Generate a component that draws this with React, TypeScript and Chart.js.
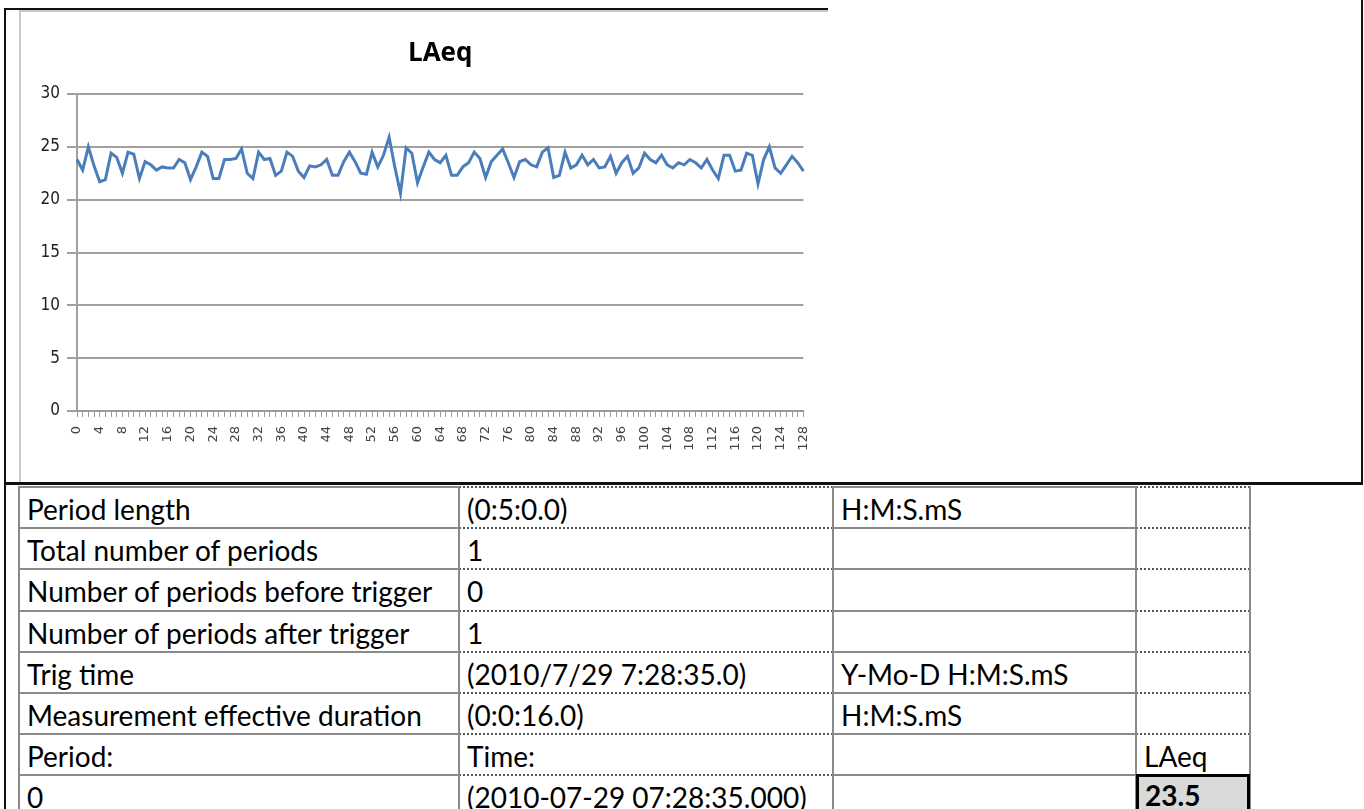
import React, { useEffect, useRef } from "react";
import { Chart, registerables } from "chart.js";

Chart.register(...registerables);

const chartTitle = "LAeq";

const categories = [
  "0","1","2","3","4","5","6","7","8","9","10","11","12","13","14","15","16","17","18","19",
  "20","21","22","23","24","25","26","27","28","29","30","31","32","33","34","35","36","37","38","39",
  "40","41","42","43","44","45","46","47","48","49","50","51","52","53","54","55","56","57","58","59",
  "60","61","62","63","64","65","66","67","68","69","70","71","72","73","74","75","76","77","78","79",
  "80","81","82","83","84","85","86","87","88","89","90","91","92","93","94","95","96","97","98","99",
  "100","101","102","103","104","105","106","107","108","109","110","111","112","113","114","115","116","117","118","119",
  "120","121","122","123","124","125","126","127","128",
];

const laeqValues = [
  23.8, 22.8, 25.0, 23.2, 21.7, 21.9, 24.4, 24.0, 22.5, 24.5,
  24.3, 22.0, 23.6, 23.3, 22.8, 23.1, 23.0, 23.0, 23.8, 23.5,
  21.9, 23.1, 24.5, 24.1, 22.0, 22.0, 23.8, 23.8, 23.9, 24.8,
  22.5, 22.0, 24.5, 23.8, 23.9, 22.3, 22.7, 24.5, 24.1, 22.7,
  22.1, 23.2, 23.1, 23.3, 23.8, 22.3, 22.3, 23.6, 24.5, 23.6,
  22.5, 22.4, 24.5, 23.1, 24.2, 25.9, 23.1, 20.6, 24.9, 24.4,
  21.6, 23.1, 24.5, 23.8, 23.5, 24.2, 22.3, 22.3, 23.1, 23.5,
  24.5, 23.9, 22.1, 23.6, 24.2, 24.8, 23.5, 22.1, 23.6, 23.8,
  23.3, 23.1, 24.5, 24.9, 22.1, 22.3, 24.5, 23.0, 23.3, 24.2,
  23.3, 23.8, 23.0, 23.1, 24.1, 22.5, 23.5, 24.1, 22.5, 23.0,
  24.4, 23.8, 23.5, 24.2, 23.3, 23.0, 23.5, 23.3, 23.8, 23.5,
  23.0, 23.8, 22.8, 22.0, 24.2, 24.2, 22.7, 22.8, 24.4, 24.2,
  21.5, 23.8, 25.0, 23.0, 22.5, 23.3, 24.1, 23.5, 22.7,
];

const yMin = 0;
const yMax = 30;
const yStep = 5;
const xLabelEvery = 4;

const tableCol1 = [
  "Period length",
  "Total number of periods",
  "Number of periods before trigger",
  "Number of periods after trigger",
  "Trig time",
  "Measurement effective duration",
  "Period:",
  "0",
];
const tableCol2 = [
  "(0:5:0.0)",
  "1",
  "0",
  "1",
  "(2010/7/29 7:28:35.0)",
  "(0:0:16.0)",
  "Time:",
  "(2010-07-29 07:28:35.000)",
];
const tableCol3 = ["H:M:S.mS", "", "", "", "Y-Mo-D H:M:S.mS", "H:M:S.mS", "", ""];
const tableCol4 = ["", "", "", "", "", "", "LAeq", "23.5"];

const COL_X = [19, 459, 833, 1136, 1250];
const ROW_TOP = 486;
const ROW_H = 41.2;
const TABLE_FONT = "Lato, 'Open Sans', sans-serif";

const CANVAS_LEFT = 20;
const CANVAS_TOP = 10;
const CANVAS_W = 808;
const CANVAS_H = 472;

function LineChart() {
  const ref = useRef<HTMLCanvasElement | null>(null);
  useEffect(() => {
    if (!ref.current) return;
    const chart = new Chart(ref.current, {
      type: "line",
      data: {
        labels: categories,
        datasets: [
          {
            label: chartTitle,
            data: laeqValues,
            borderColor: "#4a7ebb",
            backgroundColor: "#4a7ebb",
            borderWidth: 3,
            pointRadius: 0,
            tension: 0,
            fill: false,
          },
        ],
      },
      options: {
        animation: false,
        responsive: false,
        maintainAspectRatio: false,
        layout: { padding: { left: 0, right: 14, top: 0, bottom: 0 } },
        plugins: {
          legend: { display: false },
          tooltip: { enabled: false },
          title: {
            display: true,
            text: chartTitle,
            fullSize: false,
            color: "#000000",
            font: { family: "'Open Sans', sans-serif", size: 26, weight: "bold", lineHeight: 1.2 },
            padding: { top: 28, bottom: 24.8 },
          },
        },
        scales: {
          x: {
            type: "category",
            offset: false,
            grid: {
              drawOnChartArea: false,
              drawTicks: true,
              tickLength: 6,
              color: "#9a9a9a",
              lineWidth: 1,
            },
            border: { display: true, color: "#9a9a9a", width: 2 },
            ticks: {
              autoSkip: false,
              minRotation: 90,
              maxRotation: 90,
              padding: 9,
              color: "#444444",
              font: { family: "'DejaVu Sans', sans-serif", size: 13 },
              callback: (_v: any, i: number) => (i % xLabelEvery === 0 ? categories[i] : ""),
            },
            afterFit: (s: any) => {
              s.height = 71;
            },
          },
          y: {
            min: yMin,
            max: yMax,
            grid: {
              color: "#a0a0a0",
              lineWidth: 2,
              tickLength: 10,
            },
            border: { display: true, color: "#a0a0a0", width: 2 },
            ticks: {
              stepSize: yStep,
              padding: 7,
              color: "#222222",
              font: { family: "'Liberation Sans Narrow', 'DejaVu Sans Condensed', sans-serif", size: 17 },
            },
            afterFit: (s: any) => {
              s.width = 57;
            },
          },
        },
      },
    });
    return () => chart.destroy();
  }, []);
  return (
    <canvas
      ref={ref}
      width={CANVAS_W}
      height={CANVAS_H}
      style={{ position: "absolute", left: CANVAS_LEFT, top: CANVAS_TOP, width: CANVAS_W, height: CANVAS_H }}
    />
  );
}

export default function App() {
  const cols = [tableCol1, tableCol2, tableCol3, tableCol4];
  const cells: React.ReactNode[] = [];
  const lines: React.ReactNode[] = [];
  for (let r = 0; r < tableCol1.length; r++) {
    for (let c = 0; c < 4; c++) {
      const x = COL_X[c];
      const w = COL_X[c + 1] - COL_X[c];
      const y = ROW_TOP + r * ROW_H;
      const dotted = c === 1 || c === 3;
      const isValue = r === tableCol1.length - 1 && c === 3;
      const style: React.CSSProperties = {
        position: "absolute",
        left: x,
        top: y,
        width: w,
        height: ROW_H,
        boxSizing: "border-box",
        fontFamily: TABLE_FONT,
        fontSize: 28,
        lineHeight: 1.2,
        fontWeight: isValue ? "bold" : "normal",
        color: "#000",
        paddingLeft: 8,
        paddingTop: 5,
        whiteSpace: "nowrap",
      };
      if (isValue) {
        style.background = "#d9d9d9";
        style.border = "3px solid #000";
        style.paddingLeft = 6;
        style.paddingTop = 2;
        style.zIndex = 2;
      } else {
        style.borderTop = dotted ? "2px dotted #555" : "2px solid #8a8a8a";
      }
      cells.push(
        <div key={`c${r}-${c}`} style={style}>
          {cols[c][r]}
        </div>
      );
    }
  }
  for (let c = 0; c < COL_X.length; c++) {
    lines.push(
      <div
        key={`v${c}`}
        style={{
          position: "absolute",
          left: COL_X[c] - 1,
          top: ROW_TOP,
          width: 2,
          height: 809 - ROW_TOP,
          background: "#8a8a8a",
          zIndex: 1,
        }}
      />
    );
  }
  return (
    <div style={{ position: "absolute", left: 0, top: 0, width: 1364, height: 809, background: "#fff", overflow: "hidden" }}>
      <div
        style={{
          position: "absolute",
          left: 19,
          top: 10,
          width: 809,
          height: 472,
          borderLeft: "2px solid #c8c8c8",
          borderTop: "2px solid #c8c8c8",
          boxSizing: "border-box",
        }}
      />
      <LineChart />
      {cells}
      {lines}
      <div style={{ position: "absolute", left: 4, top: 8, width: 824, height: 2, background: "#111", zIndex: 3 }} />
      <div style={{ position: "absolute", left: 4, top: 8, width: 2, height: 801, background: "#111", zIndex: 3 }} />
      <div style={{ position: "absolute", left: 1361, top: 0, width: 2, height: 484, background: "#111", zIndex: 3 }} />
      <div style={{ position: "absolute", left: 4, top: 482, width: 1359, height: 2.5, background: "#111", zIndex: 3 }} />
    </div>
  );
}
